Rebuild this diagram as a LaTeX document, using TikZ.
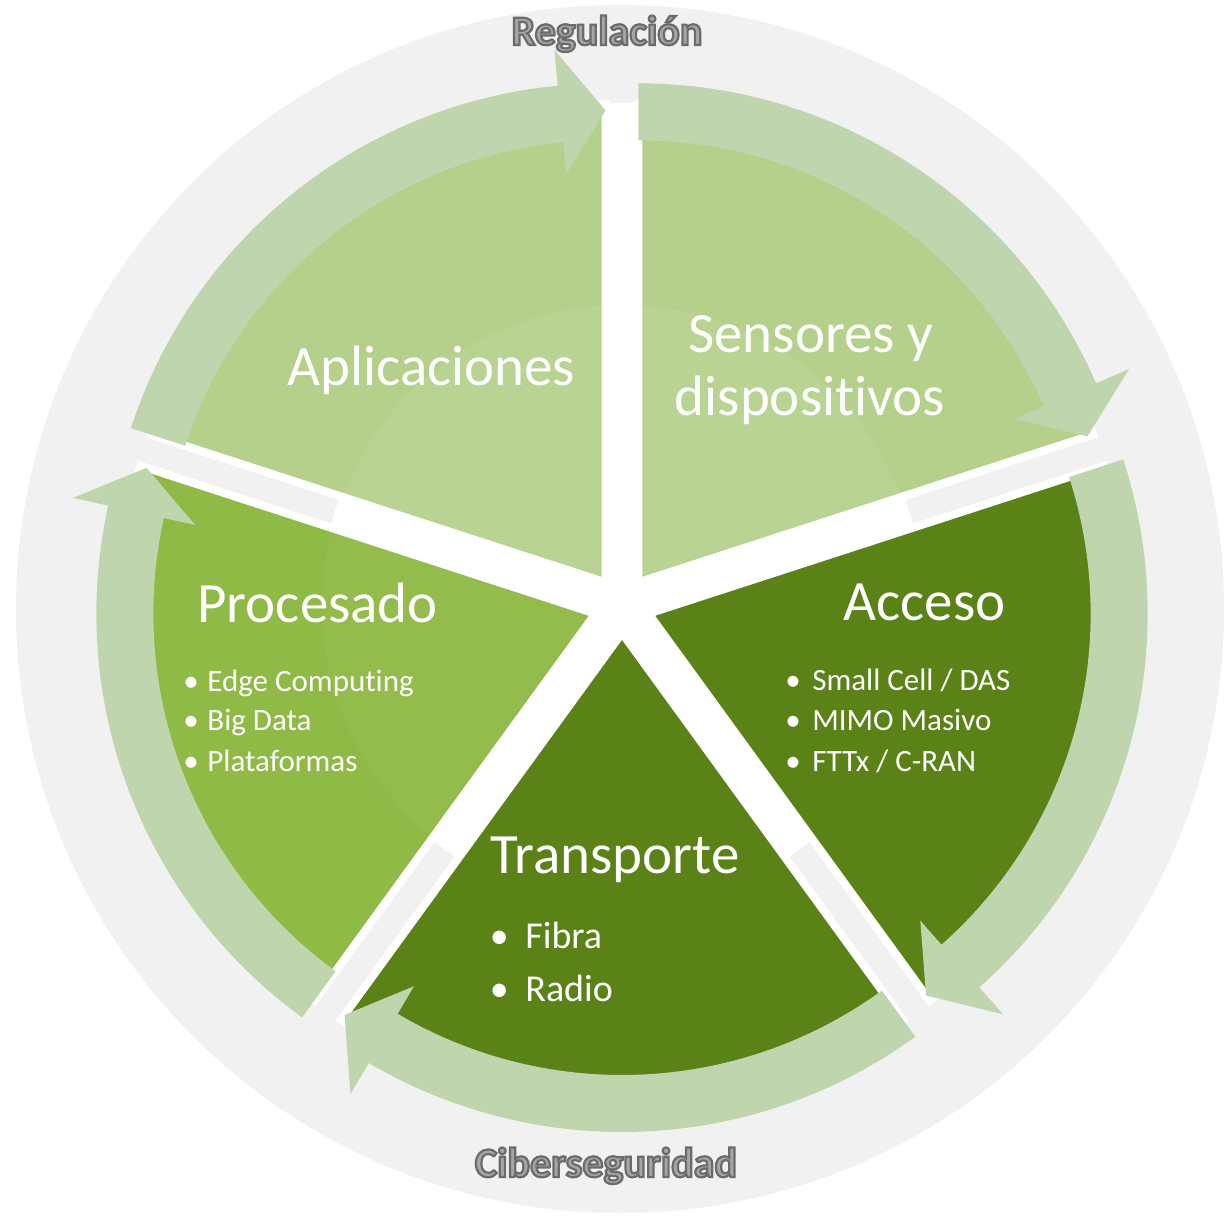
\documentclass[tikz,border=0pt]{standalone}
\usepackage{fontspec}
\setmainfont{Carlito}[Ligatures=NoCommon]
\usetikzlibrary{calc}
\definecolor{bggray}{HTML}{F1F1F1}
\definecolor{lightg}{HTML}{B4D08A}
\definecolor{midg}{HTML}{8FBA45}
\definecolor{darkg}{HTML}{5A8216}
\definecolor{bandg}{HTML}{BED5AE}
\definecolor{labfill}{HTML}{A6A6A6}
\newcommand{\DrawSector}[4]{%
  \begin{scope}[shift={($(C)+(#1:28)$)}]
    \coordinate (#4) at (0,0);
    \fill[#2] (0,0) -- (#1-36:478) arc[start angle=#1-36, end angle=#1+36, radius=478] -- cycle;
    \begin{scope}
      \clip (0,0) -- (#1-36:478) arc[start angle=#1-36, end angle=#1+36, radius=478] -- cycle;
      \fill[white, opacity=#3] (C) circle (300);
    \end{scope}
    \draw[white, line width=4, line join=miter] (0,0) -- (#1-36:478) arc[start angle=#1-36, end angle=#1+36, radius=478] -- cycle;
  \end{scope}}
\newcommand{\DrawBand}[1]{%
  \begin{scope}[shift={($(C)+(#1:28)$)}]
    \fill[bandg] (#1+36:499) arc[start angle=#1+36, end angle=#1-30.5, radius=499]
      -- (#1-30.5:535) -- (#1-36:472) -- (#1-30.5:410) -- (#1-30.5:442)
      arc[start angle=#1-30.5, end angle=#1+36, radius=442] -- cycle;
  \end{scope}}
\newcommand{\OutText}[1]{\leavevmode{\color{labfill}%
  \special{pdf:literal direct 2 Tr 1.1 w 0.42 0.42 0.42 RG}#1\special{pdf:literal direct 0 Tr}}}
\tikzset{
  title/.style={text=white, font=\fontsize{28.5}{34}\selectfont, inner sep=0pt, anchor=base west},
  bul/.style={text=white, font=\fontsize{15.5}{19}\selectfont, inner sep=0pt, anchor=base west},
  bigbul/.style={text=white, font=\fontsize{19}{23}\selectfont, inner sep=0pt, anchor=base west},
  lab/.style={font=\fontsize{21}{25}\selectfont\bfseries, inner sep=0pt, anchor=base}
}
\begin{document}
\begin{tikzpicture}[x=0.5pt,y=0.5pt]
\useasboundingbox (0,0) rectangle (1230,1217);
\coordinate (C) at (622,612);
\coordinate (G) at (620,608);
\fill[bggray] (G) circle (604);
\fill[white] (C) circle (302);
\fill[white] (606,612) rectangle (639,1114);
% sectors
\DrawSector{126}{lightg}{0.08}{apA}
\DrawSector{54}{lightg}{0.08}{apS}
\DrawSector{-18}{darkg}{0}{apAc}
\DrawSector{-90}{darkg}{0}{apT}
\DrawSector{198}{midg}{0.04}{apP}
% arrow bands
\DrawBand{126}
\DrawBand{54}
\DrawBand{-18}
\DrawBand{-90}
\DrawBand{198}
% titles
\node[title] (apl) at (287,831) {Aplicaciones};
\node[title, anchor=base] (sen1) at (811,864) {Sensores y};
\node[title, anchor=base] (sen2) at (810,801) {dispositivos};
\node[title] (pro) at (197,595) {Procesado};
\node[title] (acc) at (843,597) {Acceso};
\node[title] (tra) at (490,344) {Transporte};
% bullets
\node[bul] (p1) at (183,526) {\makebox[12pt][l]{\textbullet}Edge Computing};
\node[bul] (p2) at (183,487) {\makebox[12pt][l]{\textbullet}Big Data};
\node[bul] (p3) at (183,446) {\makebox[12pt][l]{\textbullet}Plataformas};
\node[bul] (a1) at (785,527) {\makebox[13.5pt][l]{\textbullet}Small Cell / DAS};
\node[bul] (a2) at (785,486.5) {\makebox[13.5pt][l]{\textbullet}MIMO Masivo};
\node[bul] (a3) at (785,446) {\makebox[13.5pt][l]{\textbullet}FTTx / C-RAN};
\node[bigbul] (t1) at (489.5,269) {\makebox[17.75pt][l]{\textbullet}Fibra};
\node[bigbul] (t2) at (489.5,216) {\makebox[17.75pt][l]{\textbullet}Radio};
% outer labels
\node[lab] (reg) at (607,1172) {\OutText{Regulación}};
\node[lab] (cib) at (606,40) {\OutText{Ciberseguridad}};
\end{tikzpicture}
\end{document}
